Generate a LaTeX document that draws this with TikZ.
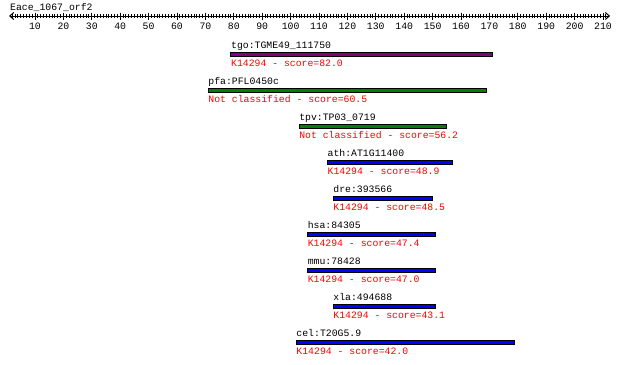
\documentclass[tikz,border=0pt]{standalone}
\usepackage{fontspec}
\setmonofont{Liberation Mono}
\usepackage{tikz}
\usetikzlibrary{arrows.meta}

\definecolor{orthpurple}{RGB}{128,0,128}
\definecolor{orthgreen}{RGB}{0,128,0}
\definecolor{orthblue}{RGB}{0,0,255}
\definecolor{scorered}{RGB}{255,0,0}

\tikzset{
  txt/.style={font=\ttfamily\fontsize{9.8}{10}\selectfont, inner sep=0pt, anchor=base west},
  genename/.style={txt, text=black},
  scoretxt/.style={txt, text=scorered},
  hitbar/.style={draw=black, line width=1pt}
}

\begin{document}
\begin{tikzpicture}[
    x=2.84pt, y=-1pt, xshift=6.6pt
]
\useasboundingbox (-2.324,0) rectangle (215.99,365);

% Title
\node [txt] (title) at (1.2,10) {Eace\_1067\_orf2};

% Axis (amino acid positions)
\draw [line width=1pt, {Straight Barb[length=4pt,width=7pt]}-{Straight Barb[length=4pt,width=7pt]}] (0.85,16) -- (212.5,16);
\foreach \t in {2,...,211} {
  \draw [line width=1pt] (\t,14) -- (\t,18);
}
\foreach \t in {10,20,...,210} {
  \draw [line width=1pt] (\t,12.5) -- (\t,19.5);
  \node [txt, anchor=base] (tick\t) at (\t,29) {\t};
}

% tgo: K14294, score 82.0
\node [genename] (tgo) at (79,48.7) {tgo:TGME49\_111750};
\draw [hitbar, fill=orthpurple] (79,52.8) rectangle (171,56.2);
\node [scoretxt] (tgo-score) at (79,66.7) {K14294 - score=82.0};

% pfa: not classified, score 60.5
\node [genename] (pfa) at (71,84.7) {pfa:PFL0450c};
\draw [hitbar, fill=orthgreen] (71,88.8) rectangle (169,92.2);
\node [scoretxt] (pfa-score) at (71,102.7) {Not classified - score=60.5};

% tpv: not classified, score 56.2
\node [genename] (tpv) at (103,120.7) {tpv:TP03\_0719};
\draw [hitbar, fill=orthgreen] (103,124.8) rectangle (155,128.2);
\node [scoretxt] (tpv-score) at (103,138.7) {Not classified - score=56.2};

% ath: score 48.9
\node [genename] (ath) at (113,156.7) {ath:AT1G11400};
\draw [hitbar, fill=orthblue] (113,160.8) rectangle (157,164.2);
\node [scoretxt] (ath-score) at (113,174.7) {K14294 - score=48.9};

% dre: score 48.5
\node [genename] (dre) at (115,192.7) {dre:393566};
\draw [hitbar, fill=orthblue] (115,196.8) rectangle (150,200.2);
\node [scoretxt] (dre-score) at (115,210.7) {K14294 - score=48.5};

% hsa: score 47.4
\node [genename] (hsa) at (106,228.7) {hsa:84305};
\draw [hitbar, fill=orthblue] (106,232.8) rectangle (151,236.2);
\node [scoretxt] (hsa-score) at (106,246.7) {K14294 - score=47.4};

% mmu: score 47.0
\node [genename] (mmu) at (106,264.7) {mmu:78428};
\draw [hitbar, fill=orthblue] (106,268.8) rectangle (151,272.2);
\node [scoretxt] (mmu-score) at (106,282.7) {K14294 - score=47.0};

% xla: score 43.1
\node [genename] (xla) at (115,300.7) {xla:494688};
\draw [hitbar, fill=orthblue] (115,304.8) rectangle (151,308.2);
\node [scoretxt] (xla-score) at (115,318.7) {K14294 - score=43.1};

% cel: score 42.0
\node [genename] (cel) at (102,336.7) {cel:T20G5.9};
\draw [hitbar, fill=orthblue] (102,340.8) rectangle (179,344.2);
\node [scoretxt] (cel-score) at (102,354.7) {K14294 - score=42.0};

\end{tikzpicture}
\end{document}
